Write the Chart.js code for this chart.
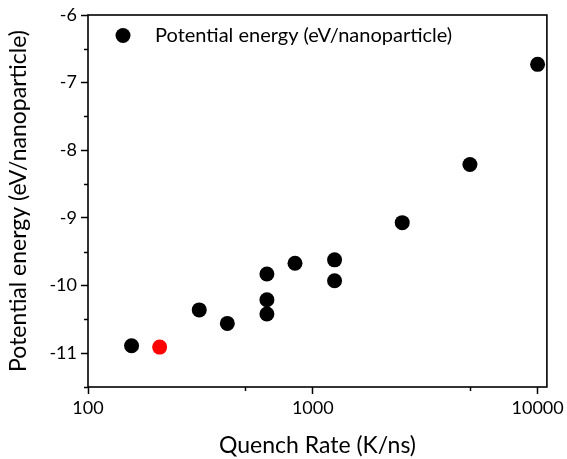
<!DOCTYPE html>
<html>
<head>
<meta charset="utf-8">
<script src="https://cdn.jsdelivr.net/npm/chart.js@4.4.1/dist/chart.umd.min.js"></script>
<style>
  html, body { margin: 0; padding: 0; background: #fff; }
  #wrap { width: 567px; height: 459px; }
</style>
</head>
<body>
<div id="wrap"><canvas id="chart"></canvas></div>
<script>
// ======= Data =======
const quenchRates     = [156.25, 208.33, 312.5, 416.67, 625, 625, 625, 833.33, 1250, 1250, 2500, 5000, 10000];
const potentialEnergy = [-10.89, -10.91, -10.36, -10.56, -9.83, -10.21, -10.42, -9.67, -9.62, -9.93, -9.07, -8.21, -6.73];
const highlightRate   = 208.33; // the red point
const xTickValues  = [100, 500, 1000, 5000, 10000];
const xTickLabels  = [100, 1000, 10000];
const yTickValues  = [-11.5, -11, -10.5, -10, -9.5, -9, -8.5, -8, -7.5, -7, -6.5, -6];
const seriesLabel  = 'Potential energy (eV/nanoparticle)';

// ======= Style =======
const FONT = 'Lato';
const isMajorY = v => Number.isInteger(v);
const isMajorX = v => xTickLabels.includes(v);

const points = quenchRates.map((x, i) => ({ x, y: potentialEnergy[i] }));

// minor ticks (shorter), plus the box and the legend
const decor = {
  id: 'decor',
  afterDraw(chart) {
    const { ctx, chartArea: a, scales } = chart;
    ctx.save();
    ctx.strokeStyle = '#000';
    ctx.lineWidth = 1.6;
    ctx.strokeRect(a.left, a.top, a.right - a.left, a.bottom - a.top);
    ctx.lineWidth = 1.5;
    ctx.beginPath();
    for (const v of xTickValues) {
      if (isMajorX(v)) continue;
      const px = Math.round(scales.x.getPixelForValue(v)) + 0.5;
      ctx.moveTo(px, a.bottom); ctx.lineTo(px, a.bottom + 4);
    }
    for (const v of yTickValues) {
      if (isMajorY(v)) continue;
      const py = Math.round(scales.y.getPixelForValue(v)) + 0.5;
      ctx.moveTo(a.left - 4, py); ctx.lineTo(a.left, py);
    }
    ctx.stroke();
    // legend
    const lx = a.left + 35, ly = a.top + 20.5;
    ctx.fillStyle = '#000';
    ctx.beginPath(); ctx.arc(lx, ly, 7.5, 0, Math.PI * 2); ctx.fill();
    ctx.font = `20px ${FONT}`;
    ctx.textBaseline = 'middle';
    ctx.fillText(seriesLabel, lx + 32, ly);
    ctx.restore();
  }
};

new Chart(document.getElementById('chart'), {
  type: 'scatter',
  data: {
    datasets: [{
      label: seriesLabel,
      data: points,
      pointRadius: 7.5,
      pointHoverRadius: 7.5,
      borderWidth: 0,
      backgroundColor: c => (c.raw && c.raw.x === highlightRate) ? '#ff0000' : '#000000',
      pointBorderColor: 'transparent'
    }]
  },
  options: {
    responsive: true,
    maintainAspectRatio: false,
    animation: false,
    events: [],
    layout: { padding: { top: 15, right: 15, left: 0, bottom: 0 } },
    plugins: { legend: { display: false }, tooltip: { enabled: false } },
    scales: {
      x: {
        type: 'logarithmic',
        min: 100, max: 11000,
        afterBuildTicks: s => { s.ticks = xTickValues.map(v => ({ value: v })); },
        afterFit: s => { s.height = 72; },
        ticks: {
          autoSkip: false, maxRotation: 0,
          callback: v => isMajorX(v) ? String(v) : '',
          color: '#000', font: { family: FONT, size: 18 }, padding: 3
        },
        grid: {
          drawOnChartArea: false, tickLength: 7, tickWidth: 1.5,
          tickColor: c => (c.tick && isMajorX(c.tick.value)) ? '#000' : 'transparent'
        },
        border: { display: false },
        title: {
          display: true, text: 'Quench Rate (K/ns)', color: '#000',
          font: { family: FONT, size: 23 }, padding: { top: 0, bottom: 0 }
        }
      },
      y: {
        min: -11.5, max: -6,
        afterBuildTicks: s => { s.ticks = yTickValues.map(v => ({ value: v })); },
        afterFit: s => { s.width = 88; },
        ticks: {
          autoSkip: false,
          callback: v => isMajorY(v) ? String(v) : '',
          color: '#000', font: { family: FONT, size: 18 }, padding: 4
        },
        grid: {
          drawOnChartArea: false, tickLength: 7, tickWidth: 1.5,
          tickColor: c => (c.tick && isMajorY(c.tick.value)) ? '#000' : 'transparent'
        },
        border: { display: false },
        title: {
          display: true, text: seriesLabel, color: '#000',
          font: { family: FONT, size: 23 }, padding: { top: 5, bottom: 0 }
        }
      }
    }
  },
  plugins: [decor]
});
</script>
</body>
</html>
